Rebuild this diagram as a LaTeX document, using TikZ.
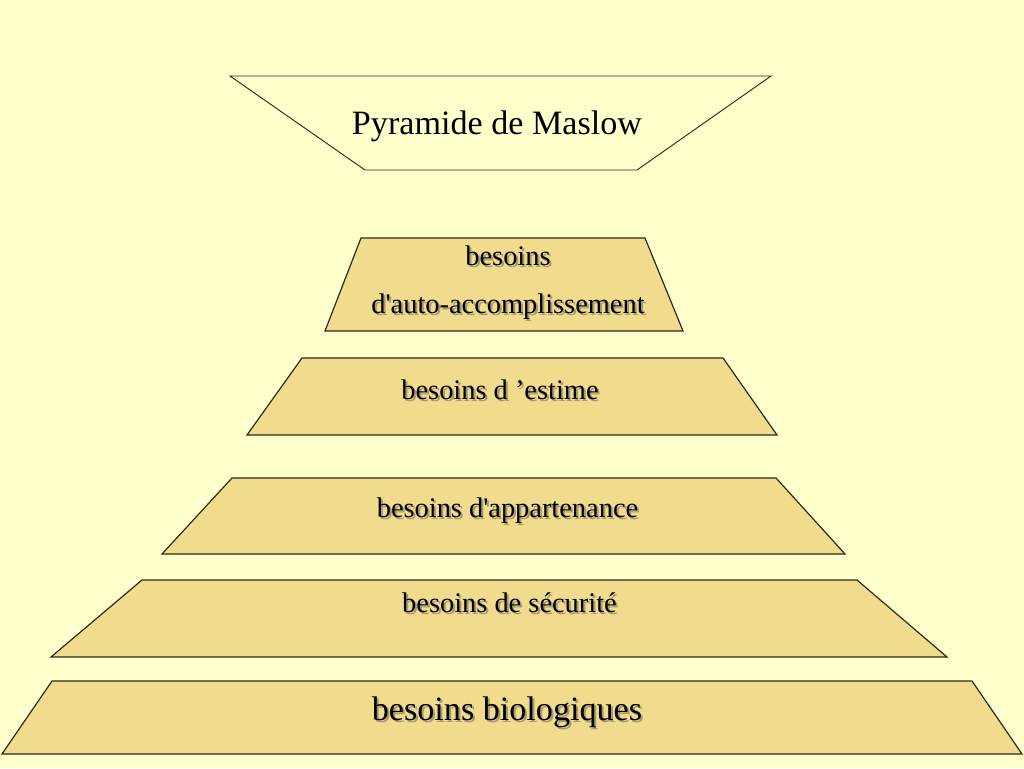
\documentclass[tikz,border=0pt]{standalone}
\usepackage{fontspec}
\setmainfont{Liberation Serif}
\newfontfamily\serf{Liberation Serif}
\definecolor{bgyellow}{HTML}{FFFFCC}
\definecolor{levelfill}{HTML}{F0DC8C}
\definecolor{edgecol}{HTML}{2A2A1A}
\definecolor{shadowcol}{HTML}{A89A70}
\begin{document}
\begin{tikzpicture}[x=0.75pt,y=-0.75pt,
  level/.style={fill=levelfill,draw=edgecol,line width=0.9pt,line join=miter},
  titlebox/.style={draw=edgecol,line width=0.7pt},
  lbl/.style={anchor=base,inner sep=0pt,font=\serf\fontsize{21.3}{25}\selectfont,text=black},
  biglbl/.style={anchor=base,inner sep=0pt,font=\serf\fontsize{25.6}{30}\selectfont,text=black},
  shd/.style={text=shadowcol}]
\fill[bgyellow] (0,0) rectangle (1024,768);
\useasboundingbox (0,0) rectangle (1024,768);
% title
\draw[titlebox] (230,76) -- (771,76) -- (637,170) -- (365,170) -- cycle;
\node[biglbl] (title) at (497,134) {Pyramide de Maslow};
% levels
\draw[level] (361,238) -- (645,238) -- (683,331) -- (325,331) -- cycle;
\draw[level] (302,358) -- (723,358) -- (777,435) -- (247,435) -- cycle;
\draw[level] (232,478) -- (776,478) -- (845,554) -- (162,554) -- cycle;
\draw[level] (142,580) -- (857,580) -- (947,657) -- (51,657) -- cycle;
\draw[level] (52,681) -- (972,681) -- (1022,754) -- (2,754) -- cycle;
% shadows
\node[lbl,shd] (s1a) at (510,267) {besoins};
\node[lbl,shd] (s1b) at (510,315) {d'auto-accomplissement};
\node[lbl,shd] (s2) at (502,401) {besoins d ’estime};
\node[lbl,shd] (s3) at (509.5,519) {besoins d'appartenance};
\node[lbl,shd] (s4) at (511.5,614) {besoins de sécurité};
\node[biglbl,shd] (s5) at (509,722) {besoins biologiques};
% texts
\node[lbl] (l1a) at (508,265) {besoins};
\node[lbl] (l1b) at (508,313) {d'auto-accomplissement};
\node[lbl] (l2) at (500,399) {besoins d ’estime};
\node[lbl] (l3) at (507.5,517) {besoins d'appartenance};
\node[lbl] (l4) at (509.5,612) {besoins de sécurité};
\node[biglbl] (l5) at (507,720) {besoins biologiques};
\end{tikzpicture}
\end{document}
